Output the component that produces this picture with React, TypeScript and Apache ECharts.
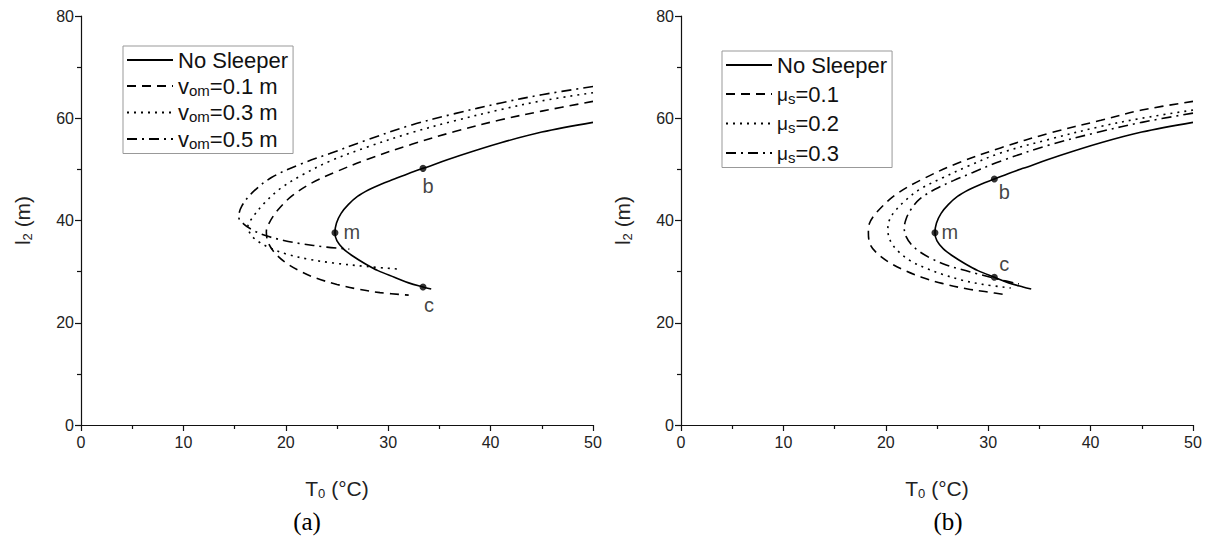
import React, { useEffect, useRef } from "react";
import * as echarts from "echarts";

// ---- data (T0 in °C, l2 in m) ----
const noSleeper: number[][] = [
  [50.0, 59.2], [45.0, 57.3], [41.0, 55.2], [37.0, 52.7], [33.4, 50.2], [32.0, 49.2],
  [30.6, 48.1], [29.3, 47.1], [28.1, 46.0], [27.0, 44.7], [26.1, 43.1], [25.4, 41.4],
  [24.95, 39.5], [24.8, 37.6], [25.0, 36.0], [25.6, 34.5], [26.5, 33.1], [27.7, 31.6],
  [29.0, 30.2], [30.6, 28.9], [32.0, 27.8], [33.4, 27.0], [34.2, 26.6],
];
const vom01: number[][] = [
  [50, 63.3], [45, 61.4], [41, 59.7], [36.5, 57.4], [32.3, 54.9], [28, 52.0], [25, 49.6],
  [22.6, 47.4], [20.6, 44.8], [19.2, 42.0], [18.4, 39.6], [18.1, 37.8], [18.3, 35.6],
  [19.0, 33.5], [20.1, 31.6], [21.5, 30.0], [23.0, 28.7], [25.0, 27.5], [27.0, 26.6],
  [29.2, 25.9], [32.0, 25.4],
];
const vom03: number[][] = [
  [50, 65.0], [45, 63.4], [41, 61.7], [36.5, 59.5], [32.3, 57.2], [28, 54.4], [24.3, 51.6],
  [21.6, 48.9], [19.5, 46.3], [17.9, 43.4], [16.8, 40.7], [16.3, 38.8], [16.6, 37.2],
  [17.3, 35.9], [18.5, 34.6], [20.1, 33.4], [22.3, 32.4], [24.6, 31.7], [27.9, 31.0],
  [31.0, 30.5],
];
const vom05: number[][] = [
  [50, 66.2], [45, 64.6], [41, 63.0], [36.5, 60.9], [32.3, 58.7], [28, 55.8], [24.3, 53.1],
  [21.4, 51.0], [18.6, 48.4], [16.7, 45.4], [15.7, 42.8], [15.4, 40.7], [15.9, 39.3],
  [16.8, 38.1], [18.1, 37.0], [19.8, 36.1], [21.4, 35.5], [24.0, 34.8], [26.2, 34.4],
];
const mu01: number[][] = [
  [50, 63.3], [45, 61.6], [41, 59.6], [36, 57.1], [31.2, 54.2], [27, 51.2], [23.6, 48.1],
  [21.0, 45.1], [19.2, 41.8], [18.4, 39.4], [18.3, 37.6], [18.5, 35.2], [19.3, 33.3],
  [20.5, 31.6], [22.0, 30.1], [23.5, 28.9], [25.5, 27.7], [28.0, 26.6], [30.0, 26.0],
  [31.6, 25.5],
];
const mu02: number[][] = [
  [50, 61.6], [45, 60.0], [41, 58.4], [36, 55.9], [31.2, 53.2], [28, 50.6], [25.5, 48.3],
  [23.4, 46.2], [21.9, 43.9], [20.8, 41.6], [20.3, 39.8], [20.2, 38.1], [20.5, 35.8],
  [21.3, 33.8], [22.5, 32.0], [24.0, 30.6], [25.5, 29.5], [27.5, 28.3], [29.5, 27.5],
  [32.2, 26.8],
];
const mu03: number[][] = [
  [50, 61.0], [45, 59.2], [41, 57.4], [36, 54.8], [31.2, 51.6], [28.5, 49.4], [26.6, 47.8],
  [24.8, 46.1], [23.3, 44.2], [22.5, 42.3], [22.0, 40.4], [21.8, 38.5], [22.0, 36.8],
  [22.5, 35.3], [23.3, 33.9], [24.5, 32.5], [25.9, 31.3], [27.4, 30.4], [28.9, 29.6],
  [31.0, 28.5], [33.0, 27.6],
];
const pointNames = ["b", "m", "c"];
const pointsA: number[][] = [[33.4, 50.2], [24.8, 37.6], [33.4, 27.0]];
const pointsB: number[][] = [[30.6, 48.1], [24.8, 37.6], [30.6, 28.9]];
const legendA = ["No Sleeper", "vom=0.1 m", "vom=0.3 m", "vom=0.5 m"];
const legendB = ["No Sleeper", "μs=0.1", "μs=0.2", "μs=0.3"];
const captions = ["(a)", "(b)"];

const FONT = "Liberation Sans, Arial, sans-serif";

const legendRich: Record<string, string> = {
  "No Sleeper": "{m|No Sleeper}",
  "vom=0.1 m": "{m|v}{s|om}{m|=0.1 m}",
  "vom=0.3 m": "{m|v}{s|om}{m|=0.3 m}",
  "vom=0.5 m": "{m|v}{s|om}{m|=0.5 m}",
  "μs=0.1": "{g|μ}{s|s}{m|=0.1}",
  "μs=0.2": "{g|μ}{s|s}{m|=0.2}",
  "μs=0.3": "{g|μ}{s|s}{m|=0.3}",
};

const DASH = [9, 6];
const DOT = [2, 5];
const DASHDOT = [10, 5, 2, 5];

export default function App() {
  const ref = useRef<HTMLDivElement>(null);
  useEffect(() => {
    if (!ref.current) return;
    const chart = echarts.init(ref.current, undefined, { renderer: "svg" });

    const gridLefts = [81, 681];
    const nameRich = {
      a: { fontSize: 21, fontFamily: FONT, color: "#222", lineHeight: 24 },
      s: { fontSize: 13, fontFamily: FONT, color: "#222", verticalAlign: "bottom", lineHeight: 11 },
    };
    const mkX = (i: number) => ({
      gridIndex: i,
      type: "value",
      min: 0,
      max: 50,
      interval: 10,
      axisLine: { show: true, onZero: false, lineStyle: { color: "#111", width: 1.2 } },
      axisTick: { show: true, inside: false, length: 6, lineStyle: { color: "#111", width: 1.2 } },
      minorTick: { show: true, splitNumber: 2, length: 4, lineStyle: { color: "#111", width: 1.2 } },
      splitLine: { show: false },
      axisLabel: { color: "#222", fontSize: 16, fontFamily: FONT, margin: 9 },
      name: "{a|T}{s|0}{a| (°C)}",
      nameLocation: "middle",
      nameGap: 51,
      nameTextStyle: { color: "#222", fontFamily: FONT, rich: nameRich },
    });
    const mkY = (i: number) => ({
      gridIndex: i,
      type: "value",
      min: 0,
      max: 80,
      interval: 20,
      axisLine: { show: true, onZero: false, lineStyle: { color: "#111", width: 1.2 } },
      axisTick: { show: true, inside: false, length: 6, lineStyle: { color: "#111", width: 1.2 } },
      minorTick: { show: true, splitNumber: 2, length: 4, lineStyle: { color: "#111", width: 1.2 } },
      splitLine: { show: false },
      axisLabel: { color: "#222", fontSize: 16, fontFamily: FONT, margin: 7 },
      name: "{a|l}{s|2}{a| (m)}",
      nameLocation: "middle",
      nameGap: 47,
      nameRotate: 90,
      nameTextStyle: { color: "#222", fontFamily: FONT, rich: nameRich },
    });

    const line = (name: string, data: number[][], idx: number, type: any) => ({
      name,
      type: "line",
      xAxisIndex: idx,
      yAxisIndex: idx,
      data,
      smooth: 0.35,
      symbol: "none",
      showSymbol: false,
      lineStyle: { color: "#000", width: 1.6, type },
      itemStyle: { color: "#000" },
      z: 2,
    });

    const labelOffsA = [[5, 18], [17, -1], [6, 18]];
    const labelOffsB = [[10, 13], [15, -1], [10, -13]];
    const marks = (pts: number[][], offs: number[][], idx: number) => ({
      type: "scatter",
      xAxisIndex: idx,
      yAxisIndex: idx,
      symbolSize: 7,
      itemStyle: { color: "#000" },
      z: 5,
      data: pts.map((p, k) => ({
        value: p,
        label: {
          show: true,
          formatter: pointNames[k],
          position: "inside",
          offset: offs[k],
          fontSize: 20,
          fontFamily: FONT,
          color: "#111",
        },
      })),
    });

    const mkLegend = (left: number, top: number, data: string[], gap: number) => ({
      left,
      top,
      orient: "vertical",
      data,
      itemWidth: 46,
      itemHeight: 14,
      itemGap: gap,
      padding: [3, 5, 3, 3],
      borderColor: "#999",
      borderWidth: 1,
      backgroundColor: "#fff",
      selectedMode: false,
      itemStyle: { opacity: 0 },
      lineStyle: { width: 2 },
      formatter: (n: string) => legendRich[n] || n,
      textStyle: {
        color: "#111",
        fontSize: 22,
        fontFamily: FONT,
        rich: {
          m: { fontSize: 22, fontFamily: FONT, color: "#111", lineHeight: 23 },
          g: { fontSize: 19, fontFamily: FONT, color: "#111", lineHeight: 23 },
          s: { fontSize: 15, fontFamily: FONT, color: "#111", verticalAlign: "bottom", lineHeight: 13 },
        },
      },
    });

    const captionStyle = (text: string) => ({
      text,
      fontSize: 25,
      fontFamily: "Liberation Serif, Times New Roman, serif",
      fill: "#000",
      align: "center",
      verticalAlign: "middle",
    });

    chart.setOption({
      animation: false,
      backgroundColor: "#fff",
      grid: gridLefts.map((l) => ({
        left: l,
        top: 16,
        width: 512,
        height: 409,
        containLabel: false,
        outerBoundsMode: "none",
      })),
      xAxis: [mkX(0), mkX(1)],
      yAxis: [mkY(0), mkY(1)],
      legend: [mkLegend(123, 46, legendA, 4), mkLegend(722, 51, legendB, 7)],
      series: [
        line("No Sleeper", noSleeper, 0, "solid"),
        line("vom=0.1 m", vom01, 0, DASH),
        line("vom=0.3 m", vom03, 0, DOT),
        line("vom=0.5 m", vom05, 0, DASHDOT),
        marks(pointsA, labelOffsA, 0),
        line("No Sleeper", noSleeper, 1, "solid"),
        line("μs=0.1", mu01, 1, DASH),
        line("μs=0.2", mu02, 1, DOT),
        line("μs=0.3", mu03, 1, DASHDOT),
        marks(pointsB, labelOffsB, 1),
      ],
      graphic: [
        { type: "text", x: 307, y: 521, style: captionStyle(captions[0]) },
        { type: "text", x: 948, y: 521, style: captionStyle(captions[1]) },
      ],
    });
    return () => chart.dispose();
  }, []);
  return (
    <div
      ref={ref}
      style={{ position: "fixed", left: 0, top: 0, width: 1208, height: 540, background: "#fff" }}
    />
  );
}
